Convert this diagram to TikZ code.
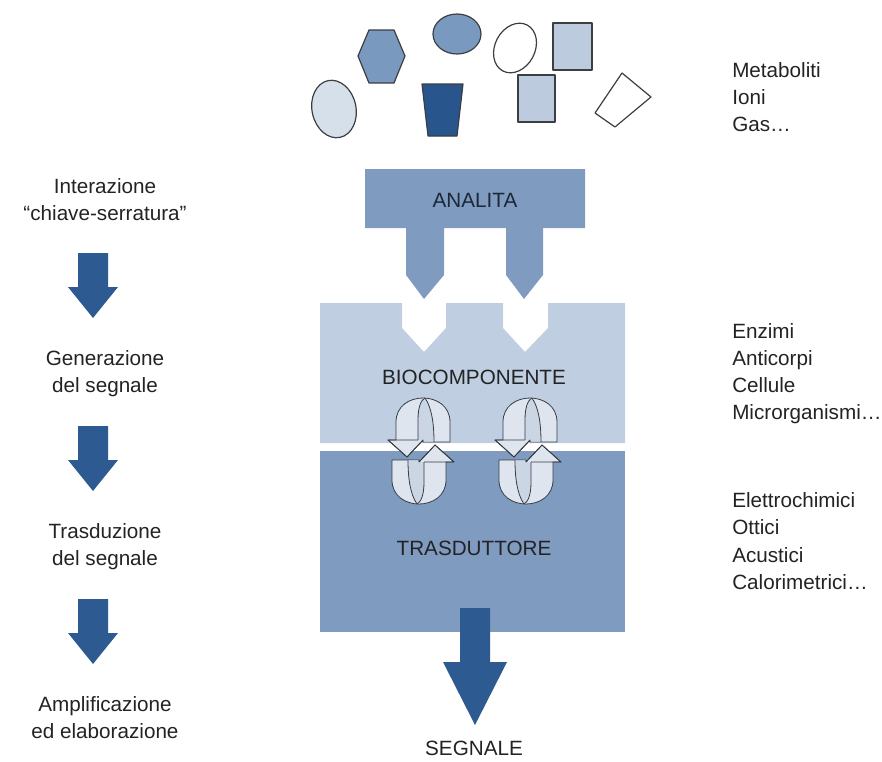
\documentclass[tikz,border=0pt]{standalone}
\usepackage{fontspec}
\setmainfont{Liberation Sans}
\definecolor{midblue}{RGB}{127,155,192}
\definecolor{lightblue}{RGB}{191,206,224}
\definecolor{darkblue}{RGB}{44,90,145}
\definecolor{shapemid}{RGB}{122,153,190}
\definecolor{shapedark}{RGB}{40,86,140}
\definecolor{shapesq}{RGB}{188,204,222}
\definecolor{shapelight}{RGB}{214,224,235}
\definecolor{outl}{RGB}{60,62,66}
\definecolor{txtc}{RGB}{35,35,38}
\definecolor{navytxt}{RGB}{28,40,58}
\definecolor{swfill}{RGB}{222,229,238}
\definecolor{swface}{RGB}{203,214,228}
\definecolor{swline}{RGB}{55,60,68}
\begin{document}
\begin{tikzpicture}[x=0.75pt,y=-0.75pt,
  txt/.style={font=\fontsize{15.5}{20}\selectfont, text=txtc, inner sep=0pt, anchor=base},
  rtxt/.style={txt, anchor=base west},
  molec/.style={draw=outl, line width=0.9pt, line join=round},
  swirlpiece/.style={fill=swfill, draw=swline, line width=0.6pt, line join=round},
  swirlline/.style={draw=swline, line width=0.6pt}]
\useasboundingbox (0,0) rectangle (882,761);

% ---- analyte molecules ----
\draw[molec, fill=shapelight, rotate around={12:(334,109)}] (334,109) ellipse [x radius=22, y radius=29];
\draw[molec, fill=shapemid] (358,56) -- (369,30) -- (394,30) -- (405,56) -- (394,83) -- (369,83) -- cycle;
\draw[molec, fill=shapemid] (457,34) ellipse [x radius=24, y radius=20];
\draw[molec, fill=shapedark] (422,84) -- (463,84) -- (457,136) -- (428,136) -- cycle;
\draw[molec, fill=white, rotate around={-28:(515,48)}] (515,48) ellipse [x radius=20, y radius=26];
\draw[molec, fill=shapesq] (553,23) rectangle (592,70);
\draw[molec, fill=shapesq] (518,75) rectangle (555,122);
\draw[molec, fill=white] (595,113) -- (622,73) -- (651,97) -- (615,127) -- cycle;

% ---- ANALITA block ----
\fill[midblue] (365,169) -- (585,169) -- (585,228) -- (543,228) -- (543,275) -- (524,299)
  -- (506,275) -- (506,228) -- (444,228) -- (444,275) -- (424,299) -- (406,275)
  -- (406,228) -- (365,228) -- cycle;
\node[txt, text=navytxt] (analita) at (475,207) {ANALITA};

% ---- BIOCOMPONENTE block ----
\fill[lightblue] (320,303) -- (402,303) -- (402,328) -- (424,352) -- (446,328) -- (446,303)
  -- (503,303) -- (503,328) -- (525,352) -- (548,328) -- (548,303) -- (625,303)
  -- (625,443) -- (320,443) -- cycle;
\node[txt] (bio) at (474,384) {BIOCOMPONENTE};

% ---- TRASDUTTORE block ----
\fill[midblue] (320,451) rectangle (625,632);
\node[txt] (trasd) at (474,555) {TRASDUTTORE};

% ---- swirl icons ----
\foreach \cx in {422,529} {
  \foreach \ang in {0,180} {
    \begin{scope}[rotate around={\ang:(\cx-1,451)}]
      \draw[swirlpiece] (\cx-26,440) -- (\cx-26,422) .. controls (\cx-26,390) and (\cx+28,390) .. (\cx+28,422)
        -- (\cx+28,442) -- (\cx+1,442) -- (\cx+1,440) -- (\cx-15,457) -- (\cx-34,440) -- cycle;
      \fill[swface] (\cx-4,440) -- (\cx-4,420) .. controls (\cx-4,407) and (\cx-1,400) .. (\cx+3,398)
        .. controls (\cx+10,408) and (\cx+12,425) .. (\cx+12,441.6) -- (\cx+1.3,441.6) -- (\cx+1.3,440) -- cycle;
      \draw[swirlline] (\cx-4,440) -- (\cx-4,420) .. controls (\cx-4,407) and (\cx-1,400) .. (\cx+3,398);
      \draw[swirlline] (\cx+3,398) .. controls (\cx+10,408) and (\cx+12,425) .. (\cx+12,442);
      \draw[swirlline, line join=round] (\cx+1,442) -- (\cx+1,440) -- (\cx-15,457) -- (\cx-34,440) -- (\cx-4,440);
    \end{scope}
  }
}

% ---- SEGNALE arrow ----
\fill[darkblue] (460,608) -- (490,608) -- (490,662) -- (507,662) -- (475,725) -- (443,662) -- (460,662) -- cycle;
\node[txt] (segnale) at (474,755) {SEGNALE};

% ---- left column ----
\node[txt] (l1a) at (105,193) {Interazione};
\node[txt] (l1b) at (105,220) {“chiave-serratura”};
\node[txt] (l2a) at (105,365) {Generazione};
\node[txt] (l2b) at (105,392) {del segnale};
\node[txt] (l3a) at (105,538) {Trasduzione};
\node[txt] (l3b) at (105,565) {del segnale};
\node[txt] (l4a) at (105,711) {Amplificazione};
\node[txt] (l4b) at (105,738) {ed elaborazione};
\foreach \yy in {253,426,599} {
  \fill[darkblue] (78,\yy) -- (108,\yy) -- (108,\yy+34) -- (118,\yy+34) -- (93,\yy+65)
    -- (68,\yy+34) -- (78,\yy+34) -- cycle;
}

% ---- right column ----
\node[rtxt] (r1) at (732,77) {Metaboliti};
\node[rtxt] (r2) at (732,104) {Ioni};
\node[rtxt] (r3) at (732,131) {Gas…};
\node[rtxt] (r4) at (732,338) {Enzimi};
\node[rtxt] (r5) at (732,365) {Anticorpi};
\node[rtxt] (r6) at (732,392) {Cellule};
\node[rtxt] (r7) at (732,419) {Microrganismi…};
\node[rtxt] (r8) at (732,507) {Elettrochimici};
\node[rtxt] (r9) at (732,534) {Ottici};
\node[rtxt] (r10) at (732,562) {Acustici};
\node[rtxt] (r11) at (732,589) {Calorimetrici…};
\end{tikzpicture}
\end{document}
